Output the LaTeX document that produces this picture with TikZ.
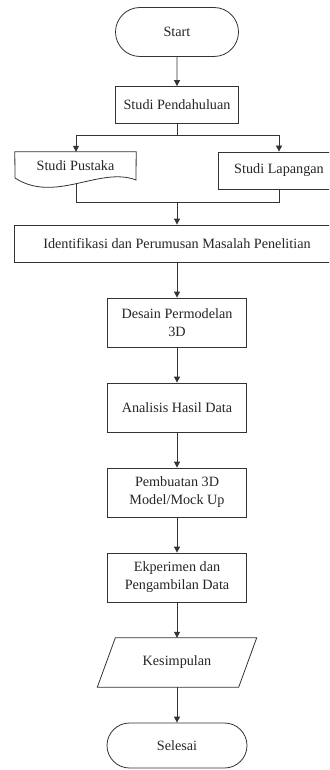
\documentclass[tikz,border=0pt]{standalone}
\usepackage{fontspec}
\setmainfont{Liberation Serif}
\usetikzlibrary{shapes.misc,arrows.meta}
\begin{document}
\begin{tikzpicture}[x=1pt,y=-1pt,
  every node/.style={font=\fontsize{14.2}{18}\selectfont, text=black!85, inner sep=0pt},
  ln/.style={draw=black!80, line width=0.8pt},
  arr/.style={ln, -{Triangle[width=6pt,length=6pt]}},
  term/.style={ln, rounded rectangle, minimum height=49pt},
  proc/.style={ln, rectangle, align=center},
  ghost/.style={rectangle, align=center}]
\useasboundingbox (0,0) rectangle (329,770);
\clip (0,0) rectangle (329,770);
\fill[white] (0,0) rectangle (329,770);

\node[term, minimum width=123pt] (start) at (177,32) {Start};
\node[proc, minimum width=123pt, minimum height=37pt] (pen) at (177,105) {Studi Pendahuluan};
\node[ghost, minimum width=121pt, minimum height=28pt] (pus) at (75.5,166) {Studi Pustaka};
\draw[ln] (15,178) -- (pus.north west) -- (pus.north east) -- (136,180)
  .. controls (100,166) and (55,204) .. (15,178) -- cycle;
\coordinate (pusb) at (76,183.5);
\node[proc, minimum width=122pt, minimum height=37pt] (lap) at (279,170.5) {Studi Lapangan};
\node[proc, minimum width=326pt, minimum height=37pt] (iden) at (177,243.5) {Identifikasi dan Perumusan Masalah Penelitian};
\node[proc, minimum width=139pt, minimum height=49pt] (des) at (177,322.5) {Desain Permodelan\\3D};
\node[proc, minimum width=139pt, minimum height=49pt] (ana) at (177,407.5) {Analisis Hasil Data};
\node[proc, minimum width=139pt, minimum height=49pt] (pem) at (177,492.5) {Pembuatan 3D\\Model/Mock Up};
\node[proc, minimum width=139pt, minimum height=49pt] (eks) at (177,577.5) {Ekperimen dan\\Pengambilan Data};
\node[ghost, minimum width=141pt, minimum height=49pt] (kes) at (177,662.5) {Kesimpulan};
\draw[ln] ([xshift=9pt]kes.north west) -- ([xshift=9pt]kes.north east)
  -- ([xshift=-9pt]kes.south east) -- ([xshift=-9pt]kes.south west) -- cycle;
\node[term, minimum width=140pt, minimum height=45pt] (sel) at (177,745.5) {Selesai};

\coordinate (split) at (177,135);
\coordinate (join) at (177,202);

\draw[arr] (start) -- (pen);
\draw[ln] (pen.south) -- (split);
\draw[arr] (split) -| ([xshift=0.5pt]pus.north);
\draw[arr] (split) -| (lap.north);
\draw[ln] (pusb) |- (join);
\draw[ln] (lap.south) |- (join);
\draw[arr] (join) -- (iden.north);
\draw[arr] (iden.south) -- (des.north);
\draw[arr] (des) -- (ana);
\draw[arr] (ana) -- (pem);
\draw[arr] (pem) -- (eks);
\draw[arr] (eks.south) -- (kes.north);
\draw[arr] (kes.south) -- (sel.north);
\end{tikzpicture}
\end{document}
